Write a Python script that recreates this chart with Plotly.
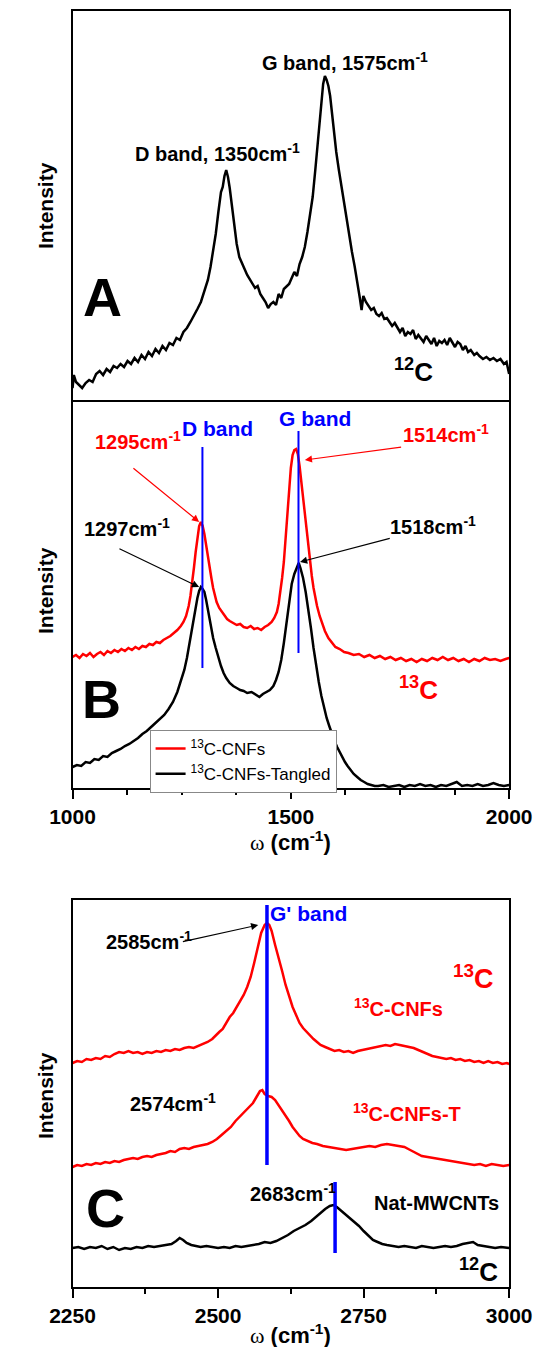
import plotly.graph_objects as go

# ---------------- data ----------------
# Panel A : 12C spectrum, 1000-2000 cm-1
a_x = [1000,1003,1008,1014,1022,1030,1038,1046,1054,1062,1070,1078,1086,1094,1102,1110,1118,1126,1134,1142,
       1150,1158,1166,1174,1182,1190,1198,1206,1214,1222,1230,1238,1246,1254,1262,1270,1278,1286,1294,1302,
       1310,1316,1322,1328,1334,1340,1344,1348,1352,1356,1360,1364,1368,1372,1376,1382,1388,1394,1400,1406,
       1412,1418,1424,1430,1436,1442,1448,1454,1460,1466,1472,1478,1484,1490,1496,1502,1508,1514,1520,1526,
       1532,1538,1544,1550,1556,1562,1568,1574,1578,1582,1586,1590,1594,1598,1604,1610,1616,1622,1628,1634,
       1640,1646,1652,1658,1662,1666,1672,1678,1684,1690,1696,1702,1708,1714,1720,1726,1732,1738,1744,1750,
       1756,1762,1768,1774,1780,1786,1792,1798,1804,1810,1816,1822,1828,1834,1840,1846,1852,1858,1864,1870,
       1876,1882,1888,1894,1900,1906,1912,1920,1926,1932,1940,1948,1956,1964,1972,1980,1988,1994,2000]
a_y = [14,27,20,17,14,19,22,20,28,31,27,33,30,36,34,38,35,41,38,44,
       40,47,43,50,46,53,49,56,52,59,57,64,62,70,74,80,86,93,100,110,
       122,135,150,168,190,210,215,226,232,225,214,200,180,168,158,145,138,133,127,123,
       118,114,116,108,104,100,94,98,100,97,108,104,113,116,118,124,130,126,138,145,
       155,170,188,205,232,262,292,318,326,322,316,306,290,272,250,232,215,198,182,165,
       150,136,122,104,92,106,100,96,92,94,88,86,89,83,84,80,76,79,74,70,
       74,66,70,68,72,63,67,64,60,66,62,58,64,56,61,59,62,57,64,60,
       55,60,58,52,56,50,52,47,49,46,43,45,42,44,41,43,38,40,28]

# Panel B : 13C-CNFs (red) and 13C-CNFs-Tangled (black)
b_red_x = [1000,1008,1016,1024,1032,1040,1048,1056,1064,1072,1080,1088,1096,1104,1112,1120,1128,1136,1144,1152,
           1160,1168,1176,1184,1192,1200,1208,1216,1224,1232,1240,1248,1254,1260,1266,1270,1274,1278,1282,1286,
           1290,1294,1298,1302,1306,1310,1314,1318,1322,1326,1330,1336,1342,1348,1354,1360,1368,1376,1384,1392,
           1400,1408,1416,1424,1432,1440,1448,1456,1462,1468,1472,1476,1480,1484,1488,1492,1496,1500,1504,1508,
           1512,1516,1520,1524,1528,1532,1536,1540,1544,1548,1552,1556,1560,1566,1572,1578,1586,1594,1602,1612,
           1622,1632,1644,1656,1668,1680,1692,1704,1716,1728,1740,1752,1764,1776,1788,1800,1812,1824,1836,1848,
           1860,1872,1884,1896,1908,1920,1932,1944,1956,1968,1980,1992,2000]
b_red_y = [131,133,130,134,132,135,131,134,136,133,137,135,138,136,139,137,140,138,141,139,
           142,141,144,143,146,145,148,150,152,155,158,162,166,172,182,192,204,220,236,250,
           262,266,262,254,242,232,222,210,200,192,186,180,176,172,169,167,165,163,164,161,
           160,162,159,160,158,161,163,166,170,176,184,196,210,226,248,274,300,320,333,338,
           339,334,322,306,290,272,254,240,226,212,200,190,182,172,164,157,150,145,141,139,
           136,135,133,134,131,133,130,132,129,131,128,130,127,129,126,129,127,130,128,131,
           128,130,127,129,126,129,127,130,128,129,127,129,130]
b_blk_x = [1000,1010,1020,1030,1040,1050,1060,1070,1080,1090,1100,1110,1120,1130,1140,1150,1160,1170,1180,1190,
           1200,1210,1220,1230,1240,1248,1256,1262,1268,1274,1280,1286,1290,1294,1298,1302,1306,1310,1316,1322,
           1328,1334,1340,1346,1352,1360,1368,1376,1384,1392,1400,1410,1420,1428,1436,1444,1452,1460,1466,1472,
           1478,1484,1490,1496,1502,1508,1514,1518,1522,1528,1534,1540,1546,1552,1558,1564,1570,1576,1582,1588,
           1594,1600,1606,1612,1618,1624,1630,1636,1644,1652,1660,1668,1676,1684,1692,1700,1712,1724,1736,1748,
           1760,1772,1784,1796,1808,1820,1832,1844,1856,1868,1880,1886,1892,1904,1916,1928,1940,1952,1964,1976,
           1988,2000]
b_blk_y = [21,23,22,26,25,29,28,32,31,35,37,39,42,44,47,50,54,57,61,65,
           68,73,79,86,96,106,118,130,145,162,178,190,197,201,199,196,188,178,164,150,
           140,130,122,115,110,105,102,100,98,97,95,96,93,91,94,96,98,102,108,116,
           128,145,166,188,204,214,222,225,220,210,196,180,160,140,122,106,92,80,70,62,
           54,47,41,36,30,26,22,18,14,11,8,6,4,3,2,2,3,1,2,3,
           1,3,2,4,2,3,1,3,2,4,6,4,2,3,2,4,2,3,5,3,
           2,3]

# Panel C : G' band
c_top_x = [2250,2258,2266,2274,2282,2290,2298,2306,2314,2322,2330,2338,2346,2354,2362,2370,2378,2386,2394,2402,
           2410,2418,2426,2434,2442,2450,2458,2466,2474,2482,2490,2496,2502,2508,2514,2520,2526,2532,2538,2544,
           2550,2556,2562,2568,2574,2580,2584,2588,2592,2598,2604,2610,2616,2622,2628,2634,2640,2646,2652,2658,
           2664,2670,2676,2684,2692,2700,2708,2716,2724,2732,2740,2748,2756,2764,2772,2780,2788,2796,2804,2812,
           2820,2828,2836,2844,2852,2860,2868,2876,2884,2892,2900,2908,2916,2924,2932,2940,2948,2956,2964,2972,
           2980,2988,2996,3000]
c_top_y = [224,226,225,228,227,229,228,231,230,233,235,234,236,234,235,233,235,234,236,235,
           237,236,238,237,239,240,239,241,243,245,248,252,255,258,264,270,274,280,286,292,
           300,310,324,340,354,362,364,362,356,342,330,316,302,290,280,272,264,259,255,251,
           248,245,242,240,238,236,237,235,236,234,236,237,238,239,240,241,242,241,243,242,
           241,240,239,237,235,233,231,230,229,228,229,227,228,226,227,225,226,224,226,224,
           225,223,224,223]
c_mid_x = [2250,2258,2266,2274,2282,2290,2298,2306,2314,2322,2330,2338,2346,2354,2362,2370,2378,2386,2394,2402,
           2410,2418,2426,2434,2442,2450,2458,2466,2474,2482,2490,2498,2506,2514,2522,2530,2538,2546,2554,2560,
           2566,2572,2576,2580,2586,2592,2598,2604,2610,2616,2622,2628,2634,2640,2646,2654,2662,2670,2680,2690,
           2700,2710,2720,2730,2740,2750,2760,2770,2780,2790,2800,2810,2820,2830,2840,2850,2860,2870,2880,2890,
           2900,2910,2920,2930,2940,2950,2960,2970,2980,2990,3000]
c_mid_y = [120,122,121,123,122,124,123,125,124,126,125,127,128,129,128,130,131,130,132,133,
           134,136,135,138,139,138,140,141,142,143,145,148,152,156,160,166,171,175,180,184,
           190,196,197,193,191,190,187,182,177,171,166,160,155,151,148,146,144,143,141,140,
           139,138,137,138,139,140,141,140,142,143,142,141,140,137,134,131,130,129,128,127,
           126,125,124,123,122,123,121,123,122,121,122]
c_blk_x = [2250,2260,2270,2280,2290,2300,2310,2320,2330,2340,2350,2360,2370,2380,2390,2400,2410,2420,2428,2434,
           2440,2446,2454,2462,2470,2480,2490,2500,2510,2520,2530,2540,2550,2560,2570,2580,2590,2600,2610,2620,
           2630,2640,2650,2660,2668,2676,2684,2692,2698,2704,2710,2718,2726,2734,2742,2750,2758,2766,2774,2782,
           2790,2800,2810,2820,2830,2840,2850,2860,2870,2880,2890,2900,2910,2920,2930,2938,2946,2956,2966,2976,
           2986,3000]
c_blk_y = [39,40,38,40,39,41,38,40,37,39,38,40,39,41,40,41,42,43,46,49,
           47,44,42,41,40,41,40,39,40,39,41,40,41,42,43,45,44,46,49,52,
           56,59,62,66,70,74,78,81,82,80,77,73,69,65,61,56,51,47,45,43,
           42,41,40,41,40,39,41,40,39,40,41,40,41,43,44,45,42,41,40,39,
           40,39]

# band marker positions (cm-1) and their vertical extents (panel units)
b_band_x = [1297.5, 1517.5]
b_band_y0 = [120, 135]
b_band_y1 = [341, 357]
c_band_x = [2584, 2701]
c_band_y0 = [122, 34]
c_band_y1 = [382, 105]

# ---------------- figure ----------------
W, H = 556, 1347
SANS = "Liberation Sans, Arial, sans-serif"
RED = "#ff0000"
BLUE = "#0000ff"

def py(p):
    return 1 - p / H

XD = [54 / W, 530 / W]

fig = go.Figure()
fig.add_trace(go.Scatter(x=a_x, y=a_y, mode="lines", line=dict(color="black", width=2.5),
                         xaxis="x", yaxis="y", showlegend=False))
fig.add_trace(go.Scatter(x=b_red_x, y=b_red_y, mode="lines", line=dict(color=RED, width=2.5),
                         xaxis="x2", yaxis="y2", name="<sup>13</sup>C-CNFs"))
fig.add_trace(go.Scatter(x=b_blk_x, y=b_blk_y, mode="lines", line=dict(color="black", width=2.5),
                         xaxis="x2", yaxis="y2", name="<sup>13</sup>C-CNFs-Tangled"))
for xv, y0, y1 in zip(b_band_x, b_band_y0, b_band_y1):
    fig.add_trace(go.Scatter(x=[xv, xv], y=[y0, y1], mode="lines", line=dict(color=BLUE, width=2),
                             xaxis="x2", yaxis="y2", showlegend=False))
fig.add_trace(go.Scatter(x=c_top_x, y=c_top_y, mode="lines", line=dict(color=RED, width=2.5),
                         xaxis="x3", yaxis="y3", showlegend=False))
fig.add_trace(go.Scatter(x=c_mid_x, y=c_mid_y, mode="lines", line=dict(color=RED, width=2.5),
                         xaxis="x3", yaxis="y3", showlegend=False))
fig.add_trace(go.Scatter(x=c_blk_x, y=c_blk_y, mode="lines", line=dict(color="black", width=2.5),
                         xaxis="x3", yaxis="y3", showlegend=False))
for xv, y0, y1 in zip(c_band_x, c_band_y0, c_band_y1):
    fig.add_trace(go.Scatter(x=[xv, xv], y=[y0, y1], mode="lines", line=dict(color=BLUE, width=3.5),
                             xaxis="x3", yaxis="y3", showlegend=False))

tickfont = dict(family=SANS, size=21, color="black", weight="bold")
common_x = dict(showline=True, linecolor="black", linewidth=2, mirror=True, showgrid=False,
                zeroline=False, ticks="outside", ticklen=9, tickwidth=2, tickcolor="black",
                tickfont=tickfont, ticklabeloverflow="allow")
common_y = dict(showline=True, linecolor="black", linewidth=2, mirror=True, showgrid=False,
                zeroline=False, ticks="", showticklabels=False)

fig.update_layout(
    width=W, height=H, margin=dict(l=0, r=0, t=0, b=0),
    paper_bgcolor="white", plot_bgcolor="white",
    xaxis=dict(common_x, domain=XD, anchor="y", side="top", mirror=False, range=[1000, 2000],
               showticklabels=False, ticks=""),
    yaxis=dict(common_y, domain=[py(402), py(11)], anchor="x", range=[0, 391]),
    xaxis2=dict(common_x, domain=XD, anchor="y2", range=[1000, 2000], tick0=1000, dtick=500,
                minor=dict(ticks="outside", ticklen=5, tickwidth=2, tickcolor="black", tick0=1000, dtick=125)),
    yaxis2=dict(common_y, domain=[py(788), py(402)], anchor="x2", range=[0, 386]),
    xaxis3=dict(common_x, domain=XD, anchor="y3", range=[2250, 3000], tick0=2250, dtick=250,
                minor=dict(ticks="outside", ticklen=5, tickwidth=2, tickcolor="black", tick0=2250, dtick=125)),
    yaxis3=dict(common_y, domain=[py(1287), py(900)], anchor="x3", range=[0, 387]),
    legend=dict(x=138 / W, y=py(730), xanchor="left", yanchor="top", bgcolor="white",
                bordercolor="#888888", borderwidth=1, font=dict(family=SANS, size=17, color="black"),
                tracegroupgap=0),
)

ann = []
def txt(x, y, s, xr, yr, size=20, color="black", bold=True, family=SANS, angle=0, xanchor="center"):
    ann.append(dict(x=x, y=y, xref=xr, yref=yr, text=s, showarrow=False, textangle=angle,
                    font=dict(family=family, size=size, color=color, weight="bold" if bold else "normal"),
                    xanchor=xanchor, yanchor="middle"))

def arrow(x0, y0, x1, y1, xr, yr, color):
    ann.append(dict(x=x1, y=y1, ax=x0, ay=y0, xref=xr, yref=yr, axref=xr, ayref=yr, text="",
                    showarrow=True, arrowhead=2, arrowsize=1.2, arrowwidth=1.2, arrowcolor=color))

# axis titles
for yc in (206, 591, 1096):
    txt(24 / W, py(yc), "Intensity", "paper", "paper", size=21, angle=-90)
omega = "<span style='font-family:Liberation Serif;font-weight:normal'>ω</span> (cm<sup>-1</sup>)"
txt(292 / W, py(841), omega, "paper", "paper", size=22)
txt(292 / W, py(1334), omega, "paper", "paper", size=22)

# panel A
txt(1333, 250, "D band, 1350cm<sup>-1</sup>", "x", "y")
txt(1623, 341, "G band, 1575cm<sup>-1</sup>", "x", "y")
txt(1068, 105, "A", "x", "y", size=54)
txt(1782, 32, "<sup>12</sup>C", "x", "y", size=26)

# panel B
txt(1333, 360, "D band", "x2", "y2", color=BLUE, size=21)
txt(1555, 370, "G band", "x2", "y2", color=BLUE, size=21)
txt(1150, 348, "1295cm<sup>-1</sup>", "x2", "y2", color=RED)
txt(1855, 355, "1514cm<sup>-1</sup>", "x2", "y2", color=RED)
txt(1124, 261, "1297cm<sup>-1</sup>", "x2", "y2")
txt(1825, 263, "1518cm<sup>-1</sup>", "x2", "y2")
arrow(1136, 321, 1290, 266, "x2", "y2", RED)
arrow(1756, 341, 1532, 328, "x2", "y2", RED)
arrow(1104, 240, 1290, 201, "x2", "y2", "black")
arrow(1730, 250, 1521, 226, "x2", "y2", "black")
txt(1066, 89, "B", "x2", "y2", size=54)
txt(1792, 100, "<sup>13</sup>C", "x2", "y2", size=26, color=RED)

# panel C
txt(2655, 374, "G' band", "x3", "y3", color=BLUE, size=21)
txt(2381, 347, "2585cm<sup>-1</sup>", "x3", "y3")
arrow(2437, 345, 2569, 362, "x3", "y3", "black")
txt(2939, 310, "<sup>13</sup>C", "x3", "y3", size=27, color=RED)
txt(2810, 280, "<sup>13</sup>C-CNFs", "x3", "y3", color=RED)
txt(2422, 185, "2574cm<sup>-1</sup>", "x3", "y3")
txt(2824, 175, "<sup>13</sup>C-CNFs-T", "x3", "y3", color=RED)
txt(2628, 95, "2683cm<sup>-1</sup>", "x3", "y3")
txt(2875, 84, "Nat-MWCNTs", "x3", "y3")
txt(2306, 79, "C", "x3", "y3", size=54)
txt(2947, 17, "<sup>12</sup>C", "x3", "y3", size=26)

fig.update_layout(annotations=ann)
fig.write_html("out.html", config={"displayModeBar": False},
               post_script="document.body.style.margin='0px';document.body.style.padding='0px';")
